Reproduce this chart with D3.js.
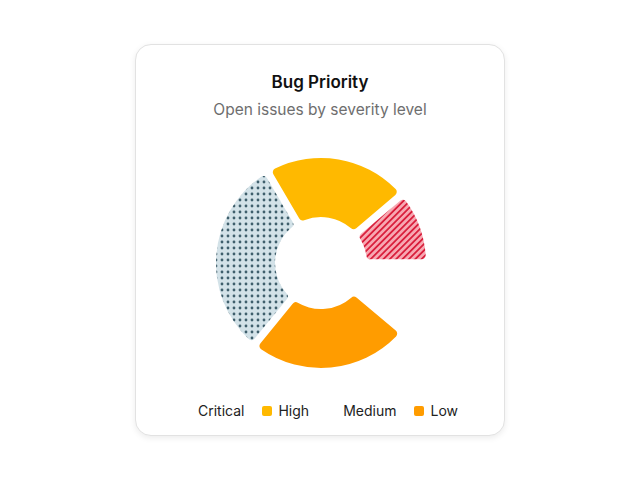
<!DOCTYPE html>
<html>
<head>
<meta charset="utf-8">
<script src="https://cdn.jsdelivr.net/npm/d3@7.9.0/dist/d3.min.js"></script>
<style>
  html, body { margin: 0; padding: 0; background: #fff; }
  body { width: 640px; height: 480px; position: relative; font-family: Inter, "Noto Sans", sans-serif; }
  .card {
    position: absolute; left: 135px; top: 44px; width: 370px; height: 392px;
    box-sizing: border-box; border: 1px solid #e2e2e2; border-radius: 16px;
    box-shadow: 0 2px 6px rgba(0,0,0,0.08); background: #fff;
  }
  .title { position: absolute; top: 27px; width: 100%; text-align: center; font-size: 17px; font-weight: 600; color: #111; }
  .subtitle { position: absolute; top: 55px; width: 100%; text-align: center; font-size: 15.5px; color: #6e6e6e; }
  #chart { position: absolute; left: 0; top: 0; }
  .legend { position: absolute; top: 357px; width: 100%; display: flex; justify-content: center; gap: 18px; font-size: 14px; color: #222; }
  .legend .item { display: flex; align-items: center; gap: 6px; }
  .legend .sw { width: 10px; height: 10px; border-radius: 2px; }
</style>
</head>
<body>
<div class="card">
  <div class="title">Bug Priority</div>
  <div class="subtitle">Open issues by severity level</div>
  <svg id="chart" width="370" height="392"></svg>
  <div class="legend" id="legend"></div>
</div>
<script>
const categories = ['Critical', 'High', 'Medium', 'Low'];
const values = [12, 25, 35, 28];
const fills = ['url(#hatch)', '#ffb900', 'url(#dots)', '#ff9c00'];
const legendColors = ['transparent', '#ffb900', 'transparent', '#ff9c00'];

const data = categories.map((c, i) => ({ name: c, value: values[i], fill: fills[i] }));

const svg = d3.select('#chart');
const defs = svg.append('defs');

// red diagonal stripes
const hatch = defs.append('pattern')
    .attr('id', 'hatch')
    .attr('patternUnits', 'userSpaceOnUse')
    .attr('width', 4.5).attr('height', 4.5)
    .attr('patternTransform', 'rotate(45)');
hatch.append('rect').attr('width', 4.5).attr('height', 4.5).attr('fill', '#f7a8b2');
hatch.append('rect').attr('width', 1.8).attr('height', 4.5).attr('fill', '#d91f3c');

// blue-grey dots
const dots = defs.append('pattern')
    .attr('id', 'dots')
    .attr('patternUnits', 'userSpaceOnUse')
    .attr('width', 6).attr('height', 6);
dots.append('rect').attr('width', 6).attr('height', 6).attr('fill', '#d3e2e8');
dots.append('circle').attr('cx', 3).attr('cy', 3).attr('r', 1.4).attr('fill', '#3f5f6c');

const cx = 185, cy = 218;

const pie = d3.pie()
    .sort(null)
    .value(d => d.value)
    .startAngle(Math.PI / 2)
    .endAngle(Math.PI / 2 - 320 * Math.PI / 180)
    .padAngle(0.065);

const arc = d3.arc()
    .innerRadius(46)
    .outerRadius(105)
    .cornerRadius(4);

svg.append('g')
    .attr('transform', `translate(${cx},${cy})`)
    .selectAll('path')
    .data(pie(data))
    .join('path')
    .attr('d', arc)
    .attr('fill', d => d.data.fill);

// Legend
const legend = d3.select('#legend');
const items = legend.selectAll('.item')
    .data(categories)
    .join('div')
    .attr('class', 'item');
items.append('span').attr('class', 'sw').style('background', (d, i) => legendColors[i]);
items.append('span').text(d => d);
</script>
</body>
</html>
